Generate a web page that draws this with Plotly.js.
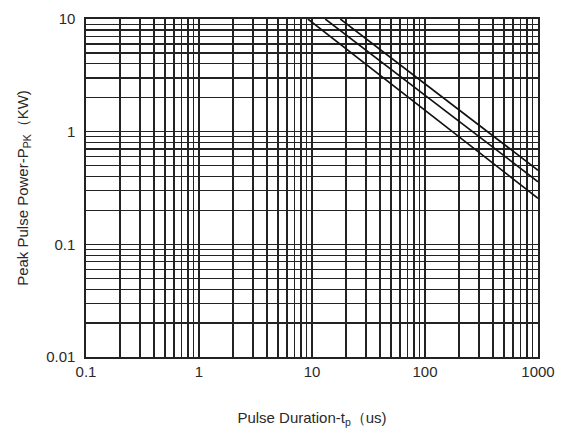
<!DOCTYPE html>
<html>
<head>
<meta charset="utf-8">
<script src="https://cdn.plot.ly/plotly-3.0.1.min.js"></script>
<style>html,body{margin:0;padding:0;background:#fff;}#chart{width:563px;height:436px;}</style>
</head>
<body>
<div id="chart"></div>
<script>
// Pulse duration (us) and peak pulse power (kW) for the three derating lines
const lineA_x = [9.2, 1000];
const lineA_y = [10, 0.256];
const lineB_x = [13.1, 1000];
const lineB_y = [10, 0.359];
const lineC_x = [17.8, 1000];
const lineC_y = [10, 0.454];

const xTickVals = [0.1, 1, 10, 100, 1000];
const xTickText = ['0.1', '1', '10', '100', '1000'];
const yTickVals = [0.01, 0.1, 1, 10];
const yTickText = ['0.01', '0.1', '1', '10'];

const lineStyle = {color: '#111', width: 1.6};
const traces = [
  {x: lineA_x, y: lineA_y, mode: 'lines', line: lineStyle, hoverinfo: 'skip'},
  {x: lineB_x, y: lineB_y, mode: 'lines', line: lineStyle, hoverinfo: 'skip'},
  {x: lineC_x, y: lineC_y, mode: 'lines', line: lineStyle, hoverinfo: 'skip'}
];

const fontBase = {family: 'Arial, Liberation Sans, sans-serif', size: 15, color: '#2a2a2a'};

const layout = {
  width: 563, height: 436,
  margin: {l: 86, r: 25, t: 19, b: 79},
  paper_bgcolor: '#fff', plot_bgcolor: '#fff',
  showlegend: false,
  font: fontBase,
  xaxis: {
    type: 'log', range: [-1, 3],
    tickvals: xTickVals, ticktext: xTickText,
    ticks: '', showgrid: true, gridcolor: '#222', gridwidth: 1.6,
    showline: true, mirror: true, linecolor: '#222', linewidth: 1.6,
    zeroline: false, ticklabelstandoff: 0,
    minor: {showgrid: true, dtick: 'D1', gridcolor: '#222', gridwidth: 1.3, ticks: ''},
    title: {text: 'Pulse Duration-t<sub>p</sub>（us)', font: {size: 15, color: '#2a2a2a'}, standoff: 34}
  },
  yaxis: {
    type: 'log', range: [-2, 1],
    tickvals: yTickVals, ticktext: yTickText,
    ticks: '', showgrid: true, gridcolor: '#222', gridwidth: 1.6,
    showline: true, mirror: true, linecolor: '#222', linewidth: 1.6,
    zeroline: false, ticklabelstandoff: 6,
    minor: {showgrid: true, dtick: 'D1', gridcolor: '#222', gridwidth: 1.3, ticks: ''},
    title: {text: 'Peak Pulse Power-P<sub>PK</sub>（KW)', font: {size: 15, color: '#2a2a2a'}, standoff: 14}
  }
};

Plotly.newPlot('chart', traces, layout, {staticPlot: true, displayModeBar: false});
</script>
</body>
</html>
